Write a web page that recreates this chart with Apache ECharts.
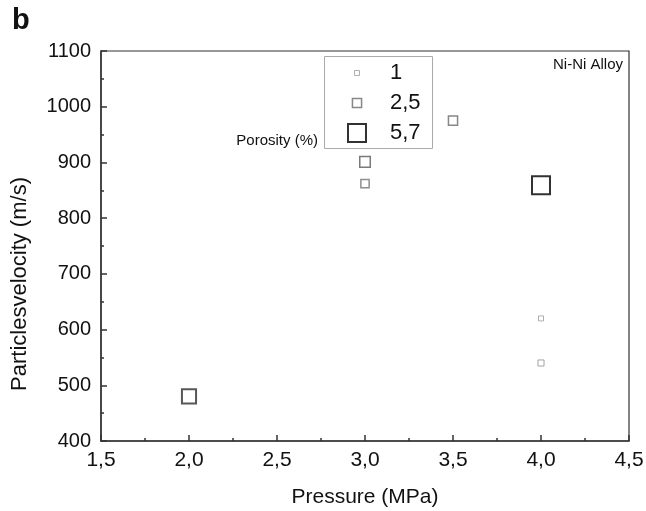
<!DOCTYPE html>
<html>
<head>
<meta charset="utf-8">
<script src="https://cdn.jsdelivr.net/npm/echarts@6/dist/echarts.min.js"></script>
<style>
html,body{margin:0;padding:0;background:#fff;}
#chart{width:646px;height:511px;}
</style>
</head>
<body>
<div id="chart"></div>
<script>
// Data
var pressure = [2.0, 3.0, 3.0, 3.5, 4.0, 4.0, 4.0];
var velocity = [480, 901, 862, 975, 859, 620, 540];
var porosity = [4.3, 3.0, 2.2, 2.5, 5.7, 1.0, 1.4];
var legendPorosity = [1, 2.5, 5.7];
var legendLabels = ['1', '2,5', '5,7'];
var xTicks = [1.5, 2.0, 2.5, 3.0, 3.5, 4.0, 4.5];
var xTickLabels = ['1,5', '2,0', '2,5', '3,0', '3,5', '4,0', '4,5'];
var yTicks = [400, 500, 600, 700, 800, 900, 1000, 1100];
var yTickLabels = ['400', '500', '600', '700', '800', '900', '1000', '1100'];

function sizeOf(p) { return 2.2 + 2.77 * p; }
function shadeOf(p) {
  var t = Math.min(1, Math.max(0, (p - 1) / 4.7));
  var v = Math.round(175 - t * (175 - 50));
  return 'rgb(' + v + ',' + v + ',' + v + ')';
}
function widthOf(p) { return p > 3.5 ? 2 : (p > 1.8 ? 1.5 : 1); }
function lookup(ticks, labels, v) {
  var idx = ticks.findIndex(function (t) { return Math.abs(t - v) < 1e-6; });
  return idx >= 0 ? labels[idx] : '';
}

var FONT = 'Liberation Sans, Arial, sans-serif';
var data = pressure.map(function (x, i) {
  return {
    value: [x, velocity[i], porosity[i]],
    itemStyle: { borderColor: shadeOf(porosity[i]), borderWidth: widthOf(porosity[i]) }
  };
});

var chart = echarts.init(document.getElementById('chart'));

var legendGraphics = [{
  type: 'rect', left: 324, top: 56, shape: { width: 108, height: 92 },
  style: { fill: '#fff', stroke: '#aaa', lineWidth: 1 }, z: 10
}];
var rowY = [73, 103, 133];
legendPorosity.forEach(function (p, i) {
  var s = sizeOf(p);
  legendGraphics.push({
    type: 'rect', x: 357 - s / 2, y: rowY[i] - s / 2, shape: { width: s, height: s },
    style: { fill: '#fff', stroke: shadeOf(p), lineWidth: widthOf(p) }, z: 11
  });
  legendGraphics.push({
    type: 'text', x: 390, y: rowY[i],
    style: { text: legendLabels[i], font: '22px ' + FONT, fill: '#111', verticalAlign: 'middle', align: 'left' }, z: 11
  });
});
legendGraphics.push({
  type: 'text', x: 318, y: 141,
  style: { text: 'Porosity (%)', font: '15px ' + FONT, fill: '#111', verticalAlign: 'middle', align: 'right' }, z: 11
});
legendGraphics.push({
  type: 'text', x: 623, y: 65,
  style: { text: 'Ni-Ni Alloy', font: '15px ' + FONT, fill: '#111', verticalAlign: 'middle', align: 'right' }, z: 11
});
legendGraphics.push({
  type: 'text', x: 12, y: 21,
  style: { text: 'b', font: 'bold 29px ' + FONT, fill: '#111', verticalAlign: 'middle', align: 'left' }, z: 11
});
legendGraphics.push({
  type: 'text', x: 20, y: 284, rotation: Math.PI / 2,
  style: { text: 'Particlesvelocity (m/s)', font: '22px ' + FONT, fill: '#111', verticalAlign: 'middle', align: 'center' }, z: 11
});

chart.setOption({
  animation: false,
  backgroundColor: '#fff',
  grid: { left: 101, top: 51, right: 17, bottom: 70, outerBoundsMode: 'none', containLabel: false, show: true, borderColor: '#333', borderWidth: 1.2, backgroundColor: 'transparent' },
  xAxis: {
    type: 'value', min: 1.5, max: 4.5, interval: 0.5,
    name: 'Pressure (MPa)', nameLocation: 'middle', nameGap: 46,
    nameTextStyle: { fontFamily: FONT, fontSize: 21, color: '#111' },
    axisLine: { lineStyle: { color: '#333', width: 1.5 } },
    axisTick: { inside: true, length: 6, lineStyle: { color: '#333', width: 1.5 } },
    minorTick: { show: true, splitNumber: 2, length: 3, lineStyle: { color: '#333', width: 1.5 } },
    splitLine: { show: false },
    axisLabel: {
      fontFamily: FONT, fontSize: 21, color: '#111', margin: 9,
      formatter: function (v) { return lookup(xTicks, xTickLabels, v); }
    }
  },
  yAxis: {
    type: 'value', min: 400, max: 1100, interval: 100,
    axisLine: { lineStyle: { color: '#333', width: 1.5 } },
    axisTick: { inside: true, length: 6, lineStyle: { color: '#333', width: 1.5 } },
    minorTick: { show: true, splitNumber: 2, length: 3, lineStyle: { color: '#333', width: 1.5 } },
    splitLine: { show: false },
    axisLabel: {
      fontFamily: FONT, fontSize: 20, color: '#111', margin: 10,
      formatter: function (v) { return lookup(yTicks, yTickLabels, v); }
    }
  },
  series: [{
    type: 'scatter',
    symbol: 'rect',
    symbolSize: function (v) { return sizeOf(v[2]); },
    itemStyle: { color: '#fff', opacity: 1 },
    data: data,
    z: 5
  }],
  graphic: legendGraphics
});
</script>
</body>
</html>
